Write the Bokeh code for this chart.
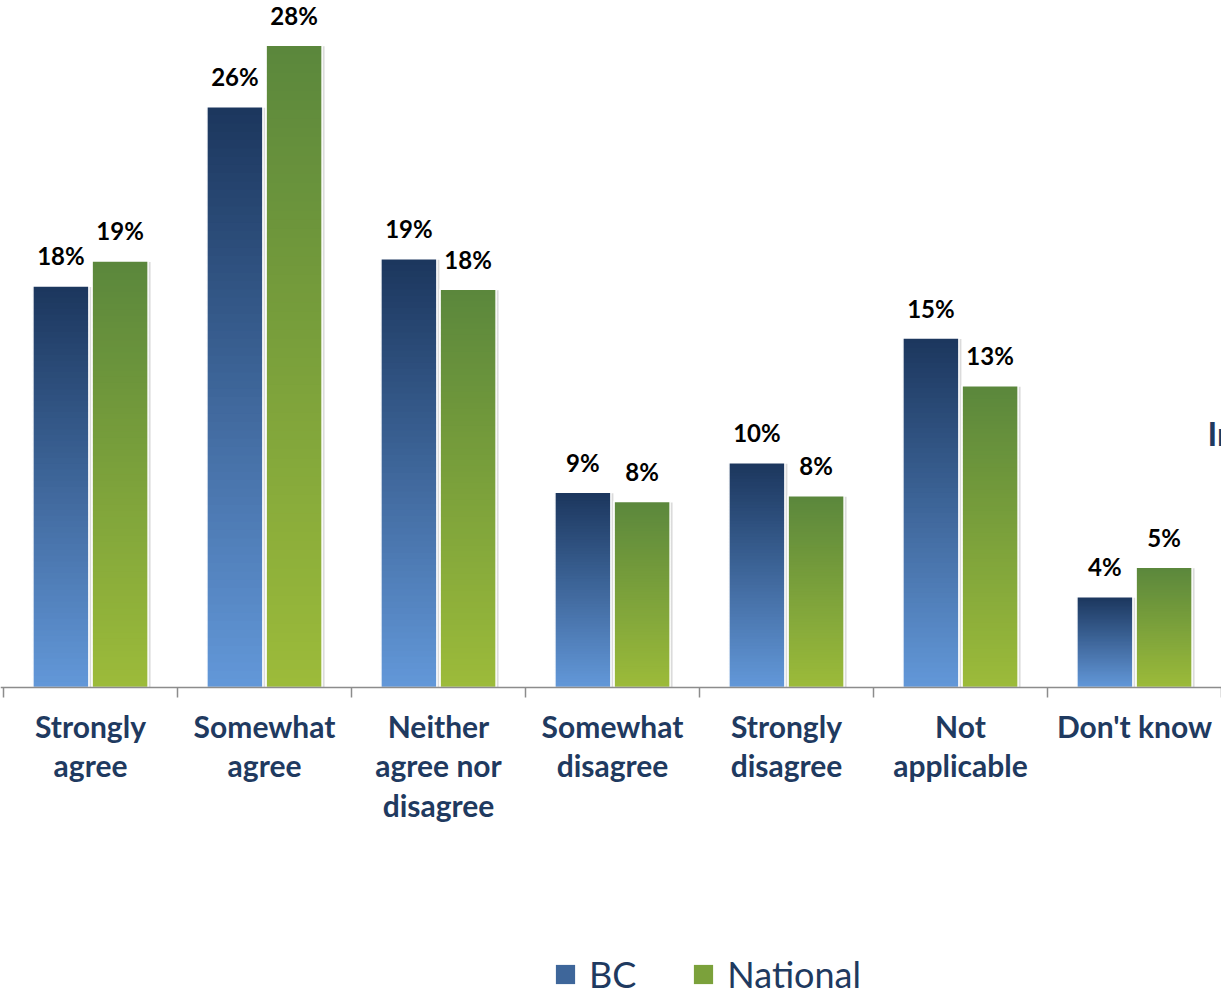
from bokeh.plotting import figure
from bokeh.models import Range1d, Span, Legend, LegendItem, Label
from bokeh.core.properties import value
from bokeh.embed import file_html
from bokeh.resources import INLINE

# ---------------- data ----------------
categories = ["Strongly\nagree", "Somewhat\nagree", "Neither\nagree nor\ndisagree",
              "Somewhat\ndisagree", "Strongly\ndisagree", "Not\napplicable", "Don't know"]
series_names = ["BC", "National"]
bc_values = [17.7, 25.6, 18.9, 8.6, 9.9, 15.4, 4.0]
national_values = [18.8, 28.3, 17.55, 8.2, 8.45, 13.3, 5.3]

# ---------------- layout / style ----------------
FONT = "Lato"
NAVY = "#1F3A60"
PX_PER_UNIT = 22.69      # pixels per percentage point
CAT_PX = 174.0           # pixels per category
W, H = 1221, 996
AXIS_Y_PX = 687          # axis line distance from figure top
X0 = -3 / CAT_PX

BW = 56 / CAT_PX
OFF = 29.6 / CAT_PX
NSLICE = 70

BC_LIGHT, BC_DARK = (99, 152, 217), (27, 54, 93)
NAT_LIGHT, NAT_DARK = (156, 187, 58), (91, 135, 60)

p = figure(width=W, height=H, output_backend="svg", toolbar_location=None,
           x_range=Range1d(X0, X0 + W / CAT_PX),
           y_range=Range1d(-(H - AXIS_Y_PX) / PX_PER_UNIT, AXIS_Y_PX / PX_PER_UNIT),
           min_border=0, x_axis_location=None, y_axis_location=None, title=None)
p.outline_line_color = None
p.background_fill_color = "white"
p.border_fill_color = "white"
p.xgrid.visible = False
p.ygrid.visible = False


def gradient_slices(vals, offset, light, dark):
    xs, bots, tops, cols = [], [], [], []
    for i, v in enumerate(vals):
        for k in range(NSLICE):
            t = (k + 0.5) / NSLICE
            c = tuple(int(round(l + (d - l) * t)) for l, d in zip(light, dark))
            xs.append(i + 0.5 + offset)
            bots.append(v * k / NSLICE)
            tops.append(min(v, v * (k + 1.6) / NSLICE))
            cols.append("#%02x%02x%02x" % c)
    return dict(x=xs, bottom=bots, top=tops, color=cols)


centers = [i + 0.5 for i in range(len(categories))]
renderers = []
for vals, off, light, dark in [(bc_values, -OFF, BC_LIGHT, BC_DARK),
                               (national_values, OFF, NAT_LIGHT, NAT_DARK)]:
    xs = [c + off for c in centers]
    # soft shadow
    p.vbar(x=[x + 2.5 / CAT_PX for x in xs], top=[v - 1.0 / PX_PER_UNIT for v in vals],
           bottom=0, width=BW, fill_color="#b0b0b0", fill_alpha=0.45, line_color=None)
    r = p.vbar(x="x", top="top", bottom="bottom", width=BW, source=gradient_slices(vals, off, light, dark),
               fill_color="color", line_color=None)
    renderers.append(r)
    # white outline
    p.vbar(x=xs, top=vals, bottom=0, width=BW, fill_color=None, line_color="white", line_width=1.5)
    # value labels
    p.text(x=xs, y=vals, text=["%d%%" % int(v + 0.5) for v in vals],
           text_align="center", text_baseline="alphabetic", y_offset=-30,
           text_font=value(FONT), text_font_style="bold", text_font_size="24px",
           text_color="black")

# axis line and tick marks at category boundaries
p.add_layout(Span(location=0, dimension="width", line_color="#8c8c8c", line_width=1.5))
bounds = list(range(len(categories) + 1))
p.segment(x0=bounds, y0=[0] * len(bounds), x1=bounds, y1=[-10 / PX_PER_UNIT] * len(bounds),
          line_color="#8c8c8c", line_width=1.5)

# category labels
p.text(x=centers, y=[0] * len(centers), text=categories,
       text_align="center", text_baseline="top", y_offset=20,
       text_font=value(FONT), text_font_style="bold", text_font_size="30px",
       text_color=NAVY, text_line_height=1.1)

# cropped title fragment at the right edge
p.add_layout(Label(x=1207, y=564, x_units="screen", y_units="screen", text="In",
                   text_font=FONT, text_font_style="bold", text_font_size="33px",
                   text_color=NAVY, text_baseline="alphabetic"))

legend = Legend(items=[LegendItem(label=series_names[0], renderers=[renderers[0]], index=NSLICE // 2),
                       LegendItem(label=series_names[1], renderers=[renderers[1]], index=NSLICE // 2)],
                location=(553, 0), orientation="horizontal", padding=0, margin=0,
                spacing=55, label_standoff=12, glyph_width=24, glyph_height=24,
                label_text_font=FONT, label_text_font_size="36px", label_text_color=NAVY,
                border_line_color=None, background_fill_alpha=0)
p.add_layout(legend)

open("out.html", "w").write(file_html(p, INLINE))
